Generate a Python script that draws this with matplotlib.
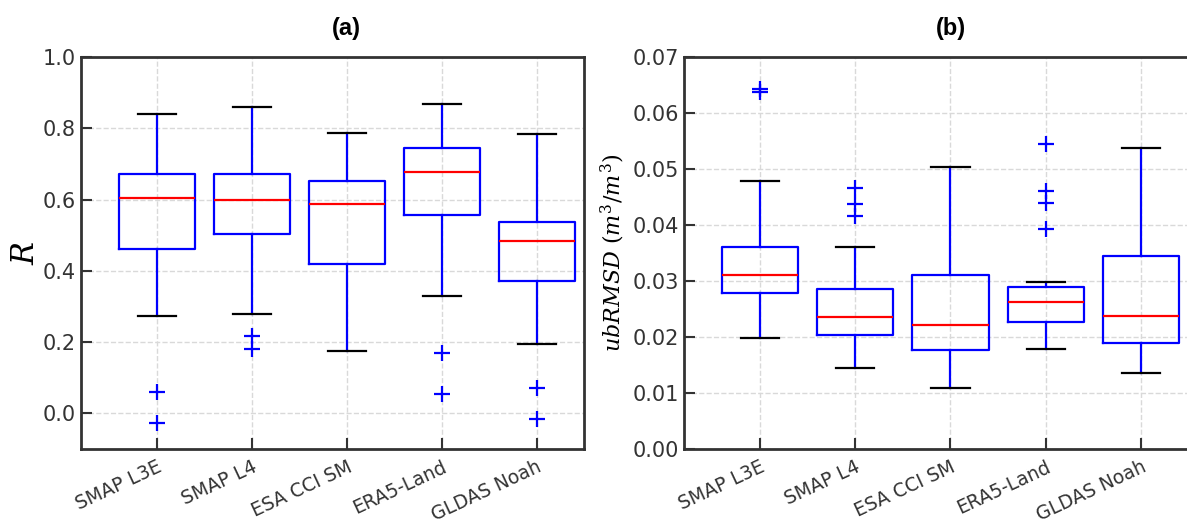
import matplotlib
matplotlib.use('Agg')
import matplotlib.pyplot as plt

products = ['SMAP L3E', 'SMAP L4', 'ESA CCI SM', 'ERA5-Land', 'GLDAS Noah']

# panel (a): R
r_whislo = [0.273, 0.280, 0.175, 0.330, 0.196]
r_q1 = [0.460, 0.502, 0.420, 0.556, 0.372]
r_med = [0.605, 0.600, 0.588, 0.677, 0.485]
r_q3 = [0.673, 0.673, 0.653, 0.744, 0.538]
r_whishi = [0.840, 0.861, 0.788, 0.867, 0.784]
r_fliers = [[0.060, -0.026], [0.216, 0.182], [], [0.170, 0.055], [0.072, -0.017]]

# panel (b): ubRMSD
u_whislo = [0.0198, 0.0144, 0.0109, 0.0179, 0.0136]
u_q1 = [0.0278, 0.0204, 0.0176, 0.0227, 0.0189]
u_med = [0.0310, 0.0235, 0.0222, 0.0263, 0.0238]
u_q3 = [0.0361, 0.0285, 0.0311, 0.0290, 0.0345]
u_whishi = [0.0479, 0.0361, 0.0503, 0.0299, 0.0537]
u_fliers = [[0.0643, 0.0637], [0.0467, 0.0438, 0.0416], [], [0.0544, 0.0461, 0.0439, 0.0393], []]

plt.rcParams['mathtext.fontset'] = 'dejavuserif'


def make_stats(lo, q1, med, q3, hi, fl):
    stats = []
    for i in range(len(products)):
        stats.append(dict(label=products[i], whislo=lo[i], q1=q1[i], med=med[i],
                          q3=q3[i], whishi=hi[i], fliers=fl[i]))
    return stats


def draw_box(ax, stats, title):
    ax.bxp(stats, widths=0.8, showfliers=True,
           boxprops=dict(color='blue', linewidth=1.6),
           whiskerprops=dict(color='blue', linewidth=1.6),
           capprops=dict(color='black', linewidth=1.6),
           medianprops=dict(color='red', linewidth=1.6),
           flierprops=dict(marker='+', markeredgecolor='blue', markersize=11, markeredgewidth=1.6))
    ax.set_xlim(0.2, 5.5)
    ax.grid(True, color='#d9d9d9', linestyle='--', linewidth=1)
    ax.set_axisbelow(True)
    ax.tick_params(direction='in', length=8, width=1.5, labelsize=15, colors='#333333')
    ax.tick_params(axis='x', labelsize=13.5, pad=6)
    for lab in ax.get_xticklabels():
        lab.set_rotation(25)
        lab.set_ha('right')
        lab.set_rotation_mode('anchor')
    for s in ax.spines.values():
        s.set_linewidth(2)
        s.set_color('#333333')
    # title centred over the middle product
    ax.set_title(title, fontsize=17, fontweight='bold', family='Liberation Sans',
                 pad=16, x=(3 - 0.2) / 5.3)


fig = plt.figure(figsize=(11.87, 5.3), dpi=100)
ax1 = fig.add_axes([0.0682, 0.1528, 0.4238, 0.7396])
ax2 = fig.add_axes([0.5762, 0.1528, 0.4250, 0.7396])

draw_box(ax1, make_stats(r_whislo, r_q1, r_med, r_q3, r_whishi, r_fliers), '(a)')
ax1.set_ylim(-0.1, 1.0)
ax1.set_yticks([0.0, 0.2, 0.4, 0.6, 0.8, 1.0])
ax1.set_ylabel('$R$', fontsize=22, labelpad=2)

draw_box(ax2, make_stats(u_whislo, u_q1, u_med, u_q3, u_whishi, u_fliers), '(b)')
ax2.set_ylim(0, 0.07)
ax2.set_yticks([0.0, 0.01, 0.02, 0.03, 0.04, 0.05, 0.06, 0.07])
ax2.set_yticklabels(['%.2f' % v for v in ax2.get_yticks()])
ax2.set_ylabel('$ubRMSD\\ (m^3/m^3)$', fontsize=16, labelpad=4)

fig.savefig('out.png', dpi=100)
